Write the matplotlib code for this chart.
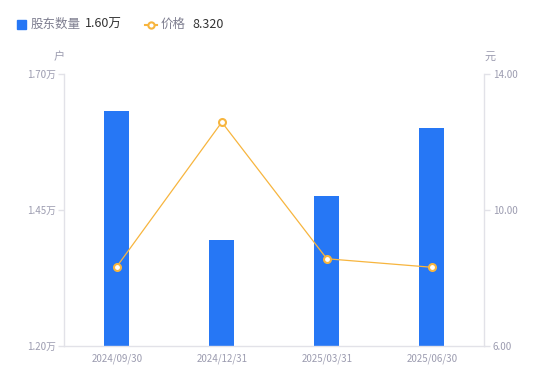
import matplotlib
matplotlib.use('Agg')
import matplotlib.pyplot as plt
from matplotlib.patches import Rectangle
from matplotlib.lines import Line2D

plt.rcParams['font.family'] = ['Noto Sans CJK SC', 'DejaVu Sans']

## data
dates = ["2024/09/30", "2024/12/31", "2025/03/31", "2025/06/30"]
holders = [1.632, 1.395, 1.476, 1.600]     # 万户
price = [8.34, 12.58, 8.57, 8.32]          # 元
left_ticks = [1.20, 1.45, 1.70]
right_ticks = [6.0, 10.0, 14.0]

blue = "#2677F5"
orange = "#F7B53E"
axis_col = "#E2E2E8"
tick_col = "#9C9CB0"

fig = plt.figure(figsize=(5.5, 3.81), dpi=100)
ax = fig.add_axes([64.3 / 550, 34.7 / 381, 420 / 550, 272.5 / 381])
ax2 = ax.twinx()

x = list(range(len(dates)))
ax.bar(x, holders, width=0.24, color=blue, zorder=2)
ax.set_xlim(-0.5, len(dates) - 0.5)
ax.set_ylim(left_ticks[0], left_ticks[-1])
ax.set_yticks(left_ticks)
ax.set_yticklabels(["%.2f万" % v for v in left_ticks])
ax.set_xticks(x)
ax.set_xticklabels(dates)

ax2.plot(x, price, color=orange, linewidth=0.9, marker='o', markersize=5,
         markerfacecolor='white', markeredgecolor=orange, markeredgewidth=1.5, zorder=3)
ax2.set_ylim(right_ticks[0], right_ticks[-1])
ax2.set_yticks(right_ticks)
ax2.set_yticklabels(["%.2f" % v for v in right_ticks])

for a in (ax, ax2):
    for s in a.spines.values():
        s.set_color(axis_col)
        s.set_linewidth(1)
    a.spines['top'].set_visible(False)
ax.spines['right'].set_visible(False)
ax2.spines['left'].set_visible(False)
ax2.spines['bottom'].set_visible(False)

ax.tick_params(axis='y', length=4, width=1, color=axis_col, labelcolor=tick_col, labelsize=7, pad=2)
ax.tick_params(axis='x', length=0, labelcolor=tick_col, labelsize=7, pad=5)
ax2.tick_params(axis='y', length=4, width=1, color=axis_col, labelcolor=tick_col, labelsize=7, pad=2)

# unit labels
fig.text(59 / 550, 1 - 57 / 381, "户", ha='center', va='center', fontsize=8, color=tick_col)
fig.text(490 / 550, 1 - 57 / 381, "元", ha='center', va='center', fontsize=8, color=tick_col)

# legend drawn by hand
ly = 1 - 24.5 / 381
fig.patches.append(Rectangle((17 / 550, 1 - 29 / 381), 8.5 / 550, 8.5 / 381,
                             transform=fig.transFigure, color=blue, figure=fig))
fig.text(31 / 550, ly, "股东数量", ha='left', va='center', fontsize=9, color="#7E7E90")
fig.text(85 / 550, ly, "1.60万", ha='left', va='center', fontsize=9, color="#333333")
fig.lines.append(Line2D([145 / 550, 157 / 550], [ly, ly], transform=fig.transFigure,
                        color=orange, linewidth=1.5, figure=fig))
fig.lines.append(Line2D([151 / 550], [ly], transform=fig.transFigure, color=orange,
                        marker='o', markersize=4.5, markerfacecolor='white',
                        markeredgecolor=orange, markeredgewidth=1.5, figure=fig))
fig.text(161 / 550, ly, "价格", ha='left', va='center', fontsize=9, color="#7E7E90")
fig.text(192 / 550, ly, "8.320", ha='left', va='center', fontsize=9, color="#333333")

fig.savefig("out.png", dpi=100)
